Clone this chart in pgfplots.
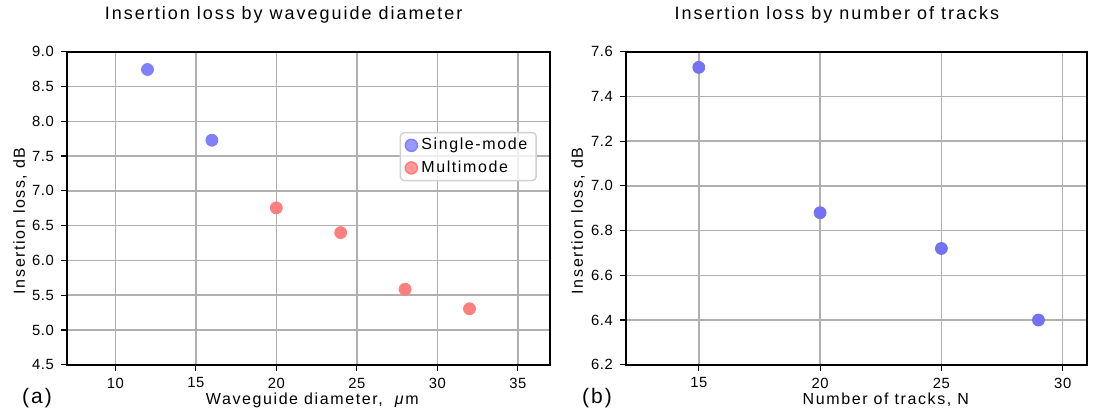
\documentclass[border=0pt]{standalone}
\usepackage{pgfplots}
\pgfplotsset{compat=1.18}
\usepackage{fontspec}
\setmainfont{Liberation Sans}
\newfontfamily\spaced[LetterSpace=11]{Liberation Sans}
\newfontfamily\lspaced[LetterSpace=10]{Liberation Sans}
\newfontfamily\tspaced[LetterSpace=4]{Liberation Sans}

\definecolor{smblue}{HTML}{7F7FFF}
\definecolor{mmred}{HTML}{FF7F7F}
\definecolor{trblue}{HTML}{7272F2}
\definecolor{gridgray}{HTML}{B0B0B0}

\pgfplotsset{
  panel/.style={
    scale only axis,
    height=156.5pt,
    clip=false,
    axis line style={line width=1pt},
    grid=major,
    grid style={gridgray, line width=0.75pt},
    tick align=outside,
    major tick length=3pt,
    tick style={black, line width=0.6pt},
    ticklabel style={font=\fontsize{7.4}{8}\tspaced},
    /pgf/number format/assume math mode=true,
    yticklabel style={/pgf/number format/fixed, /pgf/number format/fixed zerofill, /pgf/number format/precision=1},
    xtick pos=bottom, ytick pos=left,
    title style={font=\fontsize{9}{10}\spaced, anchor=base west, yshift=0pt},
    xlabel style={font=\fontsize{8}{9}\lspaced, anchor=base west},
    ylabel style={font=\fontsize{8}{9}\lspaced, anchor=center},
    only marks,
    legend image code/.code={\draw[mark repeat=2,mark phase=2,##1] plot coordinates {(0pt,0pt) (2.5pt,0pt) (5pt,0pt)};},
  }
}

\begin{document}
\begin{tikzpicture}
\path (0,0) rectangle (550pt,204.5pt);

\begin{axis}[panel,
  at={(33.5pt,23pt)}, anchor=south west,
  width=241.5pt,
  xmin=7, xmax=37, ymin=4.5, ymax=9.0,
  xtick={10,15,20,25,30,35},
  ytick={4.5,5.0,5.5,6.0,6.5,7.0,7.5,8.0,8.5,9.0},
  title={Insertion loss by waveguide diameter},
  title style={at={(axis description cs:0.064,1.064)}},
  xlabel={Waveguide diameter,\ \ \textit{μ}m},
  xlabel style={at={(axis description cs:0.273,-0.128)}},
  ylabel={Insertion loss, dB},
  ylabel style={at={(axis description cs:-0.097,0.46)}},
  legend style={at={(axis description cs:0.973,0.744)}, anchor=north east,
    draw=black!18, line width=0.75pt, rounded corners=2pt, fill=white, fill opacity=0.8, text opacity=1,
    font=\fontsize{8}{9.5}\lspaced, inner xsep=2.5pt, inner ysep=0.7pt, row sep=0pt,
    nodes={inner ysep=2pt}},
  legend cell align=left,
]
\addplot[smblue, mark=*, mark size=3pt] coordinates {
  (12, 8.745) (16, 7.728)
};
\addlegendentry{Single-mode}
\addplot[mmred, mark=*, mark size=3pt] coordinates {
  (20, 6.755) (24, 6.40) (28, 5.585) (32, 5.305)
};
\addlegendentry{Multimode}
\node[font=\fontsize{10.5}{12}\lspaced] at (axis description cs:-0.062,-0.105) {(a)};
\end{axis}

\begin{axis}[panel,
  at={(313pt,23pt)}, anchor=south west,
  width=230.5pt,
  xmin=12, xmax=31, ymin=6.2, ymax=7.6,
  xtick={15,20,25,30},
  ytick={6.2,6.4,6.6,6.8,7.0,7.2,7.4,7.6},
  title={Insertion loss by number of tracks},
  title style={at={(axis description cs:0.09,1.064)}},
  xlabel={Number of tracks, N},
  xlabel style={at={(axis description cs:0.368,-0.128)}},
  ylabel={Insertion loss, dB},
  ylabel style={at={(axis description cs:-0.104,0.46)}},
]
\addplot[trblue, mark=*, mark size=3pt] coordinates {
  (15, 7.53) (20, 6.88) (25, 6.72) (29, 6.40)
};
\node[font=\fontsize{10.5}{12}\lspaced] at (axis description cs:-0.063,-0.105) {(b)};
\end{axis}
\end{tikzpicture}
\end{document}
